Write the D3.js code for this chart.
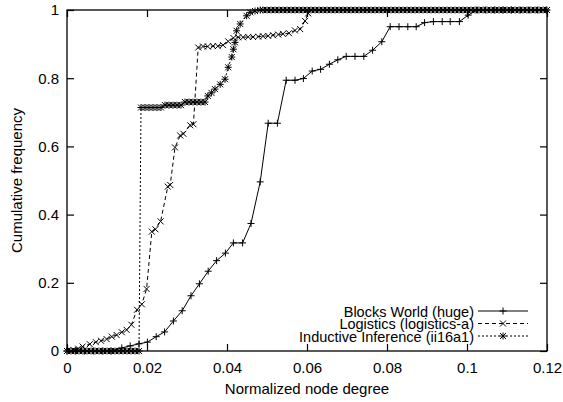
<!DOCTYPE html>
<html>
<head>
<meta charset="utf-8">
<script src="https://cdn.jsdelivr.net/npm/d3@7"></script>
<style>
  body { margin: 0; background: #fff; }
  svg { display: block; }
  text { font-family: "Liberation Sans", Arial, Helvetica, sans-serif; font-size: 15px; fill: #000; }
</style>
</head>
<body>
<svg id="chart" width="563" height="402"></svg>
<script>
// Axis ticks
const xTicks = [0, 0.02, 0.04, 0.06, 0.08, 0.1, 0.12];
const yTicks = [0, 0.2, 0.4, 0.6, 0.8, 1];

// Series names (legend order)
const seriesNames = ["Blocks World (huge)", "Logistics (logistics-a)", "Inductive Inference (ii16a1)"];

// Blocks World (huge): normalized degree vs. cumulative frequency
const blocksX = [0, 0.0022, 0.0044, 0.0066, 0.0088, 0.011, 0.0137, 0.0158, 0.018, 0.0201,
  0.0223, 0.0244, 0.0266, 0.0288, 0.031, 0.0331, 0.0353, 0.0374, 0.0396, 0.0416,
  0.0439, 0.046, 0.0483, 0.0503, 0.0526, 0.0548, 0.057, 0.0591, 0.0613, 0.0634,
  0.0656, 0.0677, 0.0698, 0.072, 0.0742, 0.0764, 0.0787, 0.0808, 0.083, 0.0852,
  0.0873, 0.0894, 0.0916, 0.0938, 0.0958, 0.0981, 0.1003, 0.1025, 0.1046, 0.1068,
  0.109, 0.1111, 0.1133, 0.1155, 0.1176, 0.1198];
const blocksY = [0, 0, 0, 0, 0, 0, 0.009, 0.015, 0.021, 0.026,
  0.042, 0.056, 0.088, 0.118, 0.162, 0.197, 0.234, 0.265, 0.287, 0.317,
  0.317, 0.374, 0.496, 0.668, 0.668, 0.794, 0.794, 0.799, 0.821, 0.826,
  0.841, 0.854, 0.864, 0.864, 0.864, 0.882, 0.907, 0.951, 0.951, 0.951,
  0.951, 0.963, 0.966, 0.966, 0.966, 0.966, 0.985, 1, 1, 1,
  1, 1, 1, 1, 1, 1];

// Logistics (logistics-a)
const logisticsX = [0, 0.0016, 0.0028, 0.0039, 0.0057, 0.0072, 0.0085, 0.0099, 0.0112, 0.0124,
  0.0137, 0.0149, 0.0161, 0.0175, 0.0187, 0.0199, 0.0212, 0.0221, 0.0234, 0.0252,
  0.0258, 0.027, 0.0283, 0.0291, 0.0308, 0.0316, 0.0328, 0.034, 0.0352, 0.0365,
  0.0377, 0.039, 0.0403, 0.0416, 0.0428, 0.044, 0.0453, 0.0465, 0.0478, 0.049,
  0.0503, 0.0515, 0.0528, 0.054, 0.0555, 0.057, 0.0583, 0.0595, 0.0603, 0.061];
const logisticsY = [0, 0.003, 0.007, 0.013, 0.02, 0.026, 0.03, 0.035, 0.042, 0.047,
  0.055, 0.062, 0.077, 0.121, 0.137, 0.182, 0.35, 0.357, 0.38, 0.482,
  0.487, 0.597, 0.632, 0.637, 0.662, 0.665, 0.89, 0.893, 0.893, 0.894,
  0.894, 0.897, 0.908, 0.918, 0.92, 0.92, 0.921, 0.921, 0.922, 0.923,
  0.924, 0.926, 0.928, 0.93, 0.932, 0.94, 0.944, 0.968, 0.99, 1];

// Inductive Inference (ii16a1)
const inductiveX = [0, 0.001, 0.002, 0.003, 0.004, 0.005, 0.006, 0.007, 0.008, 0.009,
  0.01, 0.011, 0.012, 0.013, 0.014, 0.015, 0.016, 0.017, 0.018,
  0.0185, 0.0195, 0.0205, 0.0215, 0.0225, 0.0235,
  0.0245, 0.0255, 0.0265, 0.0275, 0.0285,
  0.0295, 0.0305, 0.0315, 0.0325, 0.0335, 0.0345,
  0.0352, 0.0361, 0.037, 0.0383, 0.0395, 0.0403, 0.0412, 0.0416, 0.042, 0.0424,
  0.0433, 0.0449, 0.0458, 0.047, 0.0483,
  0.049, 0.05, 0.051, 0.052, 0.053, 0.054, 0.055, 0.056, 0.057, 0.058,
  0.059, 0.06, 0.061, 0.062, 0.063, 0.064, 0.065, 0.066, 0.067, 0.068,
  0.069, 0.07, 0.071, 0.072, 0.073, 0.074, 0.075, 0.076, 0.077, 0.078,
  0.079, 0.08, 0.081, 0.082, 0.083, 0.084, 0.085, 0.086, 0.087, 0.088,
  0.089, 0.09, 0.091, 0.092, 0.093, 0.094, 0.095, 0.096, 0.097, 0.098,
  0.099, 0.1, 0.101, 0.102, 0.103, 0.104, 0.105, 0.106, 0.107, 0.108,
  0.109, 0.11, 0.111, 0.112, 0.113, 0.114, 0.115, 0.116, 0.117, 0.118,
  0.119, 0.12];
const inductiveY = [0, 0, 0, 0, 0, 0, 0, 0, 0, 0,
  0, 0, 0, 0, 0, 0, 0, 0, 0,
  0.714, 0.714, 0.714, 0.714, 0.714, 0.714,
  0.721, 0.721, 0.721, 0.721, 0.721,
  0.73, 0.73, 0.73, 0.73, 0.73, 0.73,
  0.748, 0.757, 0.768, 0.782, 0.797, 0.832, 0.862, 0.885, 0.905, 0.939,
  0.959, 0.983, 0.993, 0.997, 1,
  1, 1, 1, 1, 1, 1, 1, 1, 1, 1,
  1, 1, 1, 1, 1, 1, 1, 1, 1, 1,
  1, 1, 1, 1, 1, 1, 1, 1, 1, 1,
  1, 1, 1, 1, 1, 1, 1, 1, 1, 1,
  1, 1, 1, 1, 1, 1, 1, 1, 1, 1,
  1, 1, 1, 1, 1, 1, 1, 1, 1, 1,
  1, 1, 1, 1, 1, 1, 1, 1, 1, 1,
  1, 1];

(function () {
  // ---- layout ----
  const svg = d3.select("#chart");
  const plotLeft = 67, plotRight = 547, plotTop = 10, plotBottom = 351;
  const x = d3.scaleLinear().domain([0, 0.12]).range([plotLeft, plotRight]);
  const y = d3.scaleLinear().domain([0, 1]).range([plotBottom, plotTop]);
  const tickLen = 7;
  const fmt = d => String(+d.toFixed(2));

  // Plot frame
  svg.append("rect")
    .attr("x", plotLeft).attr("y", plotTop)
    .attr("width", plotRight - plotLeft).attr("height", plotBottom - plotTop)
    .attr("fill", "none").attr("stroke", "#000").attr("stroke-width", 1.3);

  function styleAxis(g) {
    g.select(".domain").remove();
    g.selectAll(".tick line").attr("stroke", "#000").attr("stroke-width", 1.2);
    g.selectAll("text").style("font-size", "15px").attr("fill", "#000")
      .style("font-family", "'Liberation Sans', Arial, Helvetica, sans-serif");
  }

  svg.append("g").attr("transform", `translate(0,${plotBottom})`)
    .call(d3.axisBottom(x).tickValues(xTicks).tickFormat(fmt).tickSizeInner(-tickLen).tickSizeOuter(0).tickPadding(11))
    .call(styleAxis);
  svg.append("g").attr("transform", `translate(0,${plotTop})`)
    .call(d3.axisTop(x).tickValues(xTicks).tickFormat("").tickSizeInner(-tickLen).tickSizeOuter(0))
    .call(styleAxis);
  svg.append("g").attr("transform", `translate(${plotLeft},0)`)
    .call(d3.axisLeft(y).tickValues(yTicks).tickFormat(fmt).tickSizeInner(-tickLen).tickSizeOuter(0).tickPadding(8))
    .call(styleAxis);
  svg.append("g").attr("transform", `translate(${plotRight},0)`)
    .call(d3.axisRight(y).tickValues(yTicks).tickFormat("").tickSizeInner(-tickLen).tickSizeOuter(0))
    .call(styleAxis);

  // Axis titles
  svg.append("text")
    .attr("x", (plotLeft + plotRight) / 2).attr("y", 394)
    .attr("text-anchor", "middle")
    .text("Normalized node degree");
  svg.append("text")
    .attr("transform", `translate(22,${(plotTop + plotBottom) / 2}) rotate(-90)`)
    .attr("text-anchor", "middle")
    .text("Cumulative frequency");

  // Point symbols
  const symbols = {
    plus: "M-3.5,0H3.5M0,-3.5V3.5",
    cross: "M-3,-3L3,3M-3,3L3,-3",
    star: "M-3.5,0H3.5M0,-3.5V3.5M-3,-3L3,3M-3,3L3,-3"
  };

  const series = [
    { name: seriesNames[0], xs: blocksX, ys: blocksY, dash: null, sym: symbols.plus },
    { name: seriesNames[1], xs: logisticsX, ys: logisticsY, dash: "4,3", sym: symbols.cross },
    { name: seriesNames[2], xs: inductiveX, ys: inductiveY, dash: "2,2", sym: symbols.star }
  ];

  const line = d3.line().x(d => x(d[0])).y(d => y(d[1]));

  series.forEach(s => {
    const pts = s.xs.map((v, i) => [v, s.ys[i]]);
    const g = svg.append("g");
    g.append("path")
      .attr("d", line(pts))
      .attr("fill", "none").attr("stroke", "#000").attr("stroke-width", 1)
      .attr("stroke-dasharray", s.dash);
    g.selectAll("path.pt").data(pts).join("path")
      .attr("class", "pt")
      .attr("transform", d => `translate(${x(d[0])},${y(d[1])})`)
      .attr("d", s.sym)
      .attr("fill", "none").attr("stroke", "#000").attr("stroke-width", 1);
  });

  // Legend (key entries stacked tightly, text right-aligned against the samples)
  const legendTextX = 474, sampleX0 = 478, sampleX1 = 528, legendBase = 316.5, legendStep = 12.5;
  series.forEach((s, i) => {
    const by = legendBase + i * legendStep;
    const ly = by - 5.5;
    svg.append("text")
      .attr("x", legendTextX).attr("y", by)
      .attr("text-anchor", "end")
      .style("font-size", "14.5px")
      .text(s.name);
    svg.append("line")
      .attr("x1", sampleX0).attr("x2", sampleX1).attr("y1", ly).attr("y2", ly)
      .attr("stroke", "#000").attr("stroke-width", 1)
      .attr("stroke-dasharray", s.dash);
    svg.append("path")
      .attr("transform", `translate(${(sampleX0 + sampleX1) / 2},${ly})`)
      .attr("d", s.sym)
      .attr("fill", "none").attr("stroke", "#000").attr("stroke-width", 1);
  });
})();
</script>
</body>
</html>
